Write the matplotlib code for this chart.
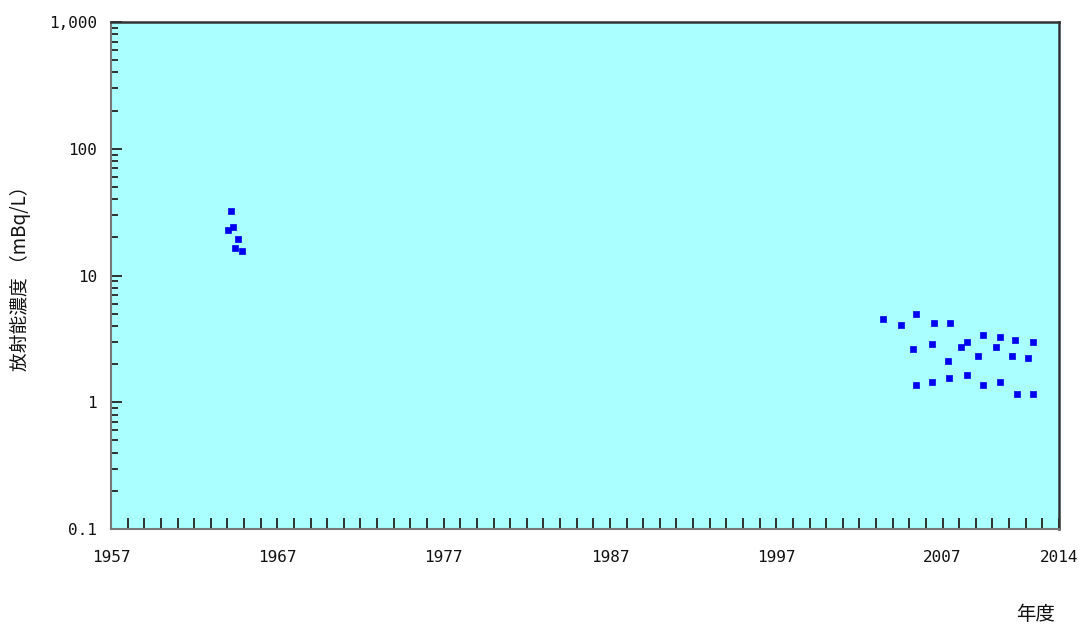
import matplotlib
matplotlib.use("Agg")
import matplotlib.pyplot as plt
from matplotlib.ticker import FixedLocator, LogLocator, NullFormatter
import numpy as np

plt.rcParams['font.family'] = ['Noto Sans CJK JP', 'DejaVu Sans']

# measurements (fractional year, mBq/L)
years_early = [1964.24, 1964.34, 1964.04, 1964.66, 1964.43, 1964.86]
vals_early = [32.1, 24.3, 22.7, 19.3, 16.4, 15.5]

years_late = [2003.42, 2004.47, 2005.43, 2006.46, 2007.42,
              2005.21, 2006.35, 2008.45, 2008.13, 2009.41, 2010.44, 2011.38, 2012.43,
              2009.15, 2010.24, 2011.18, 2012.13, 2007.30,
              2005.41, 2006.35, 2007.40, 2008.45, 2009.41, 2010.44, 2011.48, 2012.43]
vals_late = [4.51, 4.10, 4.94, 4.25, 4.25,
             2.65, 2.90, 3.01, 2.71, 3.40, 3.29, 3.08, 2.99,
             2.33, 2.71, 2.33, 2.25, 2.12,
             1.36, 1.44, 1.55, 1.65, 1.36, 1.44, 1.16, 1.16]

xticks = [1957, 1967, 1977, 1987, 1997, 2007, 2014]
yticks = [0.1, 1, 10, 100, 1000]
ytick_labels = ['0.1', '1', '10', '100', '1,000']

fig = plt.figure(figsize=(10.83, 6.29), dpi=100)
ax = fig.add_axes([111 / 1083, 1 - 529 / 629, 948 / 1083, 507 / 629])
ax.set_facecolor('#aaffff')

ax.scatter(years_early + years_late, vals_early + vals_late, marker='s', s=24,
           color='#0000ee', edgecolors='#0000ee', linewidths=0.5, zorder=3)

ax.set_yscale('log')
ax.set_ylim(0.1, 1000)
ax.set_xlim(1957, 2014)

ax.xaxis.set_major_locator(FixedLocator(xticks))
ax.xaxis.set_minor_locator(FixedLocator(np.arange(1957, 2015)))
ax.set_xticklabels([str(t) for t in xticks])
ax.set_yticks(yticks)
ax.set_yticklabels(ytick_labels)
ax.yaxis.set_minor_locator(LogLocator(base=10, subs=np.arange(2, 10)))
ax.yaxis.set_minor_formatter(NullFormatter())

ax.tick_params(axis='x', which='both', direction='in', length=8, width=1.3,
               color='#222222', pad=15)
ax.tick_params(axis='y', which='major', direction='in', length=8, width=1.3,
               color='#222222', pad=10)
ax.tick_params(axis='y', which='minor', direction='in', length=5, width=1.3,
               color='#222222')
for lab in ax.get_xticklabels() + ax.get_yticklabels():
    lab.set_fontfamily('DejaVu Sans Mono')
    lab.set_fontsize(11.5)
    lab.set_color('#111111')

for side in ['left', 'bottom']:
    ax.spines[side].set_color('#777777')
    ax.spines[side].set_linewidth(1.5)
for side in ['top', 'right']:
    ax.spines[side].set_color('#333333')
    ax.spines[side].set_linewidth(1.8)

fig.text(20 / 1083, 1 - 274 / 629, '放射能濃度 （mBq/L）', rotation=90,
         ha='center', va='center', fontsize=13.5, color='#111111')
fig.text(1036 / 1083, 1 - 614 / 629, '年度', ha='center', va='center',
         fontsize=14, color='#111111')

fig.savefig('out.png', dpi=100)
